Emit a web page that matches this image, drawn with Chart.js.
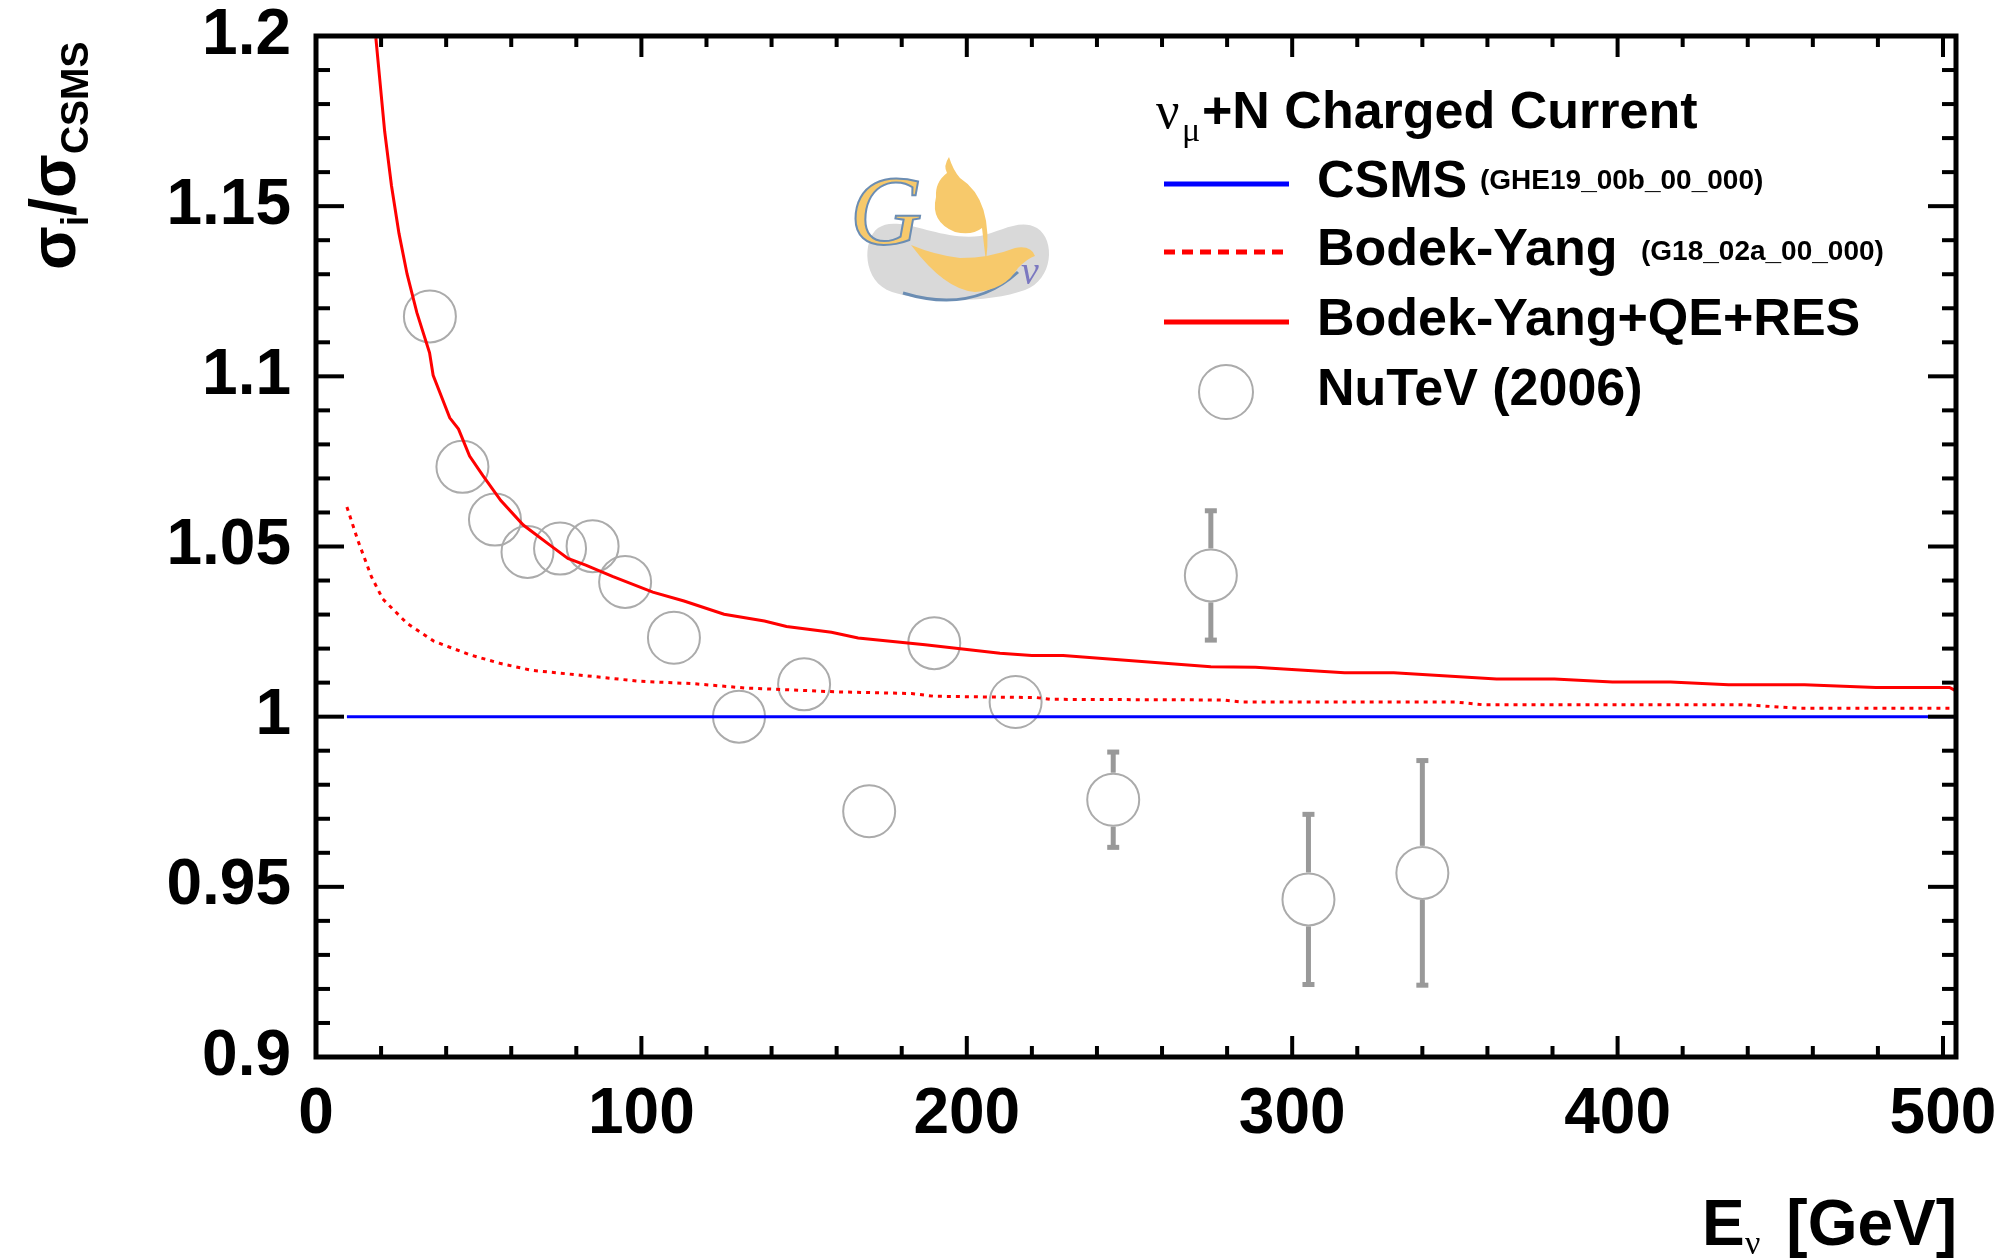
<!DOCTYPE html>
<html>
<head>
<meta charset="utf-8">
<script src="https://cdn.jsdelivr.net/npm/chart.js@4.4.1/dist/chart.umd.min.js"></script>
<style>
  html, body { margin: 0; padding: 0; background: #fff; }
  #wrap { width: 2009px; height: 1258px; position: relative; }
</style>
</head>
<body>
<div id="wrap"><canvas id="chart"></canvas></div>
<script>
// NuTeV (2006) data, ratio to CSMS
const nutevE = [35, 45, 55, 65, 75, 85, 95, 110, 130, 150, 170, 190, 215, 245, 275, 305, 340];
const nutevRatio = [1.1176, 1.0734, 1.0579, 1.0484, 1.0494, 1.0501, 1.0396, 1.0232, 1.0000, 1.0095,
                    0.9722, 1.0216, 1.0043, 0.9756, 1.0415, 0.9463, 0.9541];
const nutevErr = [0.005, 0.005, 0.005, 0.005, 0.005, 0.005, 0.005, 0.005, 0.006, 0.006,
                  0.007, 0.007, 0.007, 0.014, 0.019, 0.025, 0.033];

// Bodek-Yang (G18_02a_00_000)
const byE = [9.5, 12.9, 17.0, 20.5, 28.0, 36.2, 47.2, 56.8, 66.4, 80.1, 99.4, 115.8, 132.3, 159.7,
             183, 189.9, 221.5, 225.6, 279, 284.6, 350.3, 358.6, 438.2, 456, 504];
const byRatio = [1.0616, 1.0517, 1.0412, 1.0346, 1.0274, 1.0222, 1.0182, 1.0156, 1.0136, 1.0123,
                 1.0104, 1.0097, 1.0084, 1.0073, 1.0068, 1.0060, 1.0056, 1.0051, 1.0049, 1.0043,
                 1.0043, 1.0035, 1.0035, 1.0025, 1.0025];

// Bodek-Yang+QE+RES
const byFullE = [18.4, 21.1, 23.2, 25.5, 28.0, 31.0, 34.9, 36.0, 41.1, 43.8, 47.2, 51.3, 56.8, 63.7,
                 71.9, 77.4, 82.9, 91.1, 103.5, 113.1, 125.4, 137.8, 144.6, 158.4, 166.6, 187.2,
                 210.2, 220, 229.6, 275, 288.7, 302.4, 316.1, 331.2, 362.8, 380.6, 398.4, 416.3,
                 434.1, 457.4, 479.4, 502, 504];
const byFullRatio = [1.1994, 1.1720, 1.1560, 1.1420, 1.1300, 1.1187, 1.1069, 1.1003, 1.0878, 1.0845,
                     1.0766, 1.0708, 1.0635, 1.0563, 1.0504, 1.0465, 1.0445, 1.0412, 1.0366, 1.0340,
                     1.0301, 1.0281, 1.0265, 1.0248, 1.0231, 1.0211, 1.0186, 1.0180, 1.0180, 1.0147,
                     1.0145, 1.0137, 1.0129, 1.0129, 1.0111, 1.0111, 1.0102, 1.0102, 1.0094, 1.0094,
                     1.0086, 1.0086, 1.0076];

// CSMS (GHE19_00b_00_000) reference
const csmsE = [9.5, 504];
const csmsRatio = [1, 1];

const xTicks = [0, 100, 200, 300, 400, 500];
const yTicks = [0.9, 0.95, 1, 1.05, 1.1, 1.15, 1.2];

const SANS = '"Liberation Sans", Arial, Helvetica, sans-serif';
const SERIF = '"Liberation Serif", "DejaVu Serif", serif';
const GREY = '#ababab';

const toXY = (xs, ys) => xs.map((x, i) => ({ x: x, y: ys[i] }));

function line(ctx, x1, y1, x2, y2) {
  ctx.beginPath(); ctx.moveTo(x1, y1); ctx.lineTo(x2, y2); ctx.stroke();
}

function drawLogo(ctx) {
  ctx.save();
  ctx.fillStyle = '#d9d9d9';
  ctx.beginPath();
  ctx.moveTo(878, 228);
  ctx.bezierCurveTo(862, 240, 862, 282, 892, 292);
  ctx.bezierCurveTo(925, 303, 990, 303, 1025, 290);
  ctx.bezierCurveTo(1053, 280, 1056, 240, 1037, 228);
  ctx.bezierCurveTo(1020, 218, 1000, 232, 980, 236);
  ctx.bezierCurveTo(950, 240, 920, 226, 900, 224);
  ctx.bezierCurveTo(890, 223, 884, 224, 878, 228);
  ctx.fill();

  ctx.strokeStyle = '#6b8db3';
  ctx.lineWidth = 3;
  ctx.beginPath(); ctx.moveTo(903, 293); ctx.quadraticCurveTo(972, 314, 1018, 272); ctx.stroke();

  ctx.fillStyle = '#f7c96b';
  // body
  ctx.beginPath();
  ctx.moveTo(949, 157);
  ctx.quadraticCurveTo(943, 166, 947, 173);
  ctx.quadraticCurveTo(935, 182, 936, 197);
  ctx.quadraticCurveTo(930, 222, 955, 232);
  ctx.quadraticCurveTo(972, 236, 982, 228);
  ctx.lineTo(986, 262);
  ctx.quadraticCurveTo(994, 200, 960, 178);
  ctx.quadraticCurveTo(953, 170, 949, 157);
  ctx.fill();
  // wing
  ctx.beginPath();
  ctx.moveTo(911, 245);
  ctx.quadraticCurveTo(945, 290, 975, 292);
  ctx.quadraticCurveTo(1005, 290, 1018, 268);
  ctx.quadraticCurveTo(1028, 258, 1035, 256);
  ctx.quadraticCurveTo(1031, 245, 1015, 248);
  ctx.quadraticCurveTo(990, 258, 960, 258);
  ctx.quadraticCurveTo(935, 255, 911, 245);
  ctx.fill();

  ctx.font = 'italic 100px ' + SERIF;
  ctx.lineWidth = 2;
  ctx.fillText('G', 850, 244);
  ctx.strokeText('G', 850, 244);

  ctx.fillStyle = '#7b78c0';
  ctx.font = 'italic 40px ' + SERIF;
  ctx.fillText('\u03bd', 1021, 284);
  ctx.restore();
}

const decorations = {
  id: 'decorations',
  beforeDatasetsDraw(chart) {
    drawLogo(chart.ctx);
  },
  afterDatasetsDraw(chart) {
    const { ctx, scales: { x, y } } = chart;
    const r = 27;
    ctx.save();
    ctx.strokeStyle = '#999';
    ctx.fillStyle = '#999';
    ctx.lineWidth = 5;
    nutevE.forEach((e, i) => {
      const px = x.getPixelForValue(e);
      const py = y.getPixelForValue(nutevRatio[i]);
      const top = y.getPixelForValue(nutevRatio[i] + nutevErr[i]);
      const bot = y.getPixelForValue(nutevRatio[i] - nutevErr[i]);
      if (py - top > r) {
        line(ctx, px, top, px, py - r);
        ctx.fillRect(px - 6, top - 2.5, 12, 5);
      }
      if (bot - py > r) {
        line(ctx, px, py + r, px, bot);
        ctx.fillRect(px - 6, bot - 2.5, 12, 5);
      }
    });
    ctx.restore();
  },
  afterDraw(chart) {
    const { ctx, chartArea: a, scales: { x, y } } = chart;
    ctx.save();
    ctx.strokeStyle = '#000';
    ctx.lineWidth = 4;
    for (let v = 20; v < 504; v += 20) {
      const px = x.getPixelForValue(v);
      const len = v % 100 === 0 ? 21 : 11;
      line(ctx, px, a.bottom, px, a.bottom - len);
      line(ctx, px, a.top, px, a.top + len);
    }
    for (let k = 1; k < 30; k++) {
      const py = y.getPixelForValue(0.9 + k * 0.01);
      const len = k % 5 === 0 ? 28 : 14;
      line(ctx, a.left, py, a.left + len, py);
      line(ctx, a.right, py, a.right - len, py);
    }
    ctx.lineWidth = 5;
    ctx.strokeRect(a.left, a.top, a.right - a.left, a.bottom - a.top);

    // axis titles
    ctx.fillStyle = '#000';
    ctx.textBaseline = 'alphabetic';
    ctx.textAlign = 'left';
    ctx.font = 'bold 64px ' + SANS;
    ctx.fillText('E', 1702, 1245);
    ctx.font = '34px ' + SERIF;
    ctx.fillText('\u03bd', 1745, 1254);
    ctx.textAlign = 'right';
    ctx.font = 'bold 64px ' + SANS;
    ctx.fillText('[GeV]', 1957, 1245);

    ctx.save();
    ctx.translate(75, 270);
    ctx.rotate(-Math.PI / 2);
    ctx.textAlign = 'left';
    let cx = 0;
    const part = (t, font, dy) => {
      ctx.font = font;
      ctx.fillText(t, cx, dy);
      cx += ctx.measureText(t).width;
    };
    part('\u03c3', 'bold 64px ' + SANS, 0);
    part('i', 'bold 38px ' + SANS, 13);
    part('/\u03c3', 'bold 64px ' + SANS, 0);
    part('CSMS', 'bold 39px ' + SANS, 13);
    ctx.restore();

    // legend
    ctx.textAlign = 'left';
    ctx.font = '52px ' + SERIF;
    ctx.fillText('\u03bd', 1156, 128);
    ctx.font = '34px ' + SERIF;
    ctx.fillText('\u03bc', 1182, 141);
    ctx.font = 'bold 52px ' + SANS;
    ctx.fillText('+N Charged Current', 1202, 128);

    ctx.lineWidth = 5;
    ctx.strokeStyle = '#0000ff';
    line(ctx, 1164, 184, 1289, 184);
    ctx.strokeStyle = '#ff0000';
    ctx.setLineDash([11, 7]);
    line(ctx, 1164, 252, 1283, 252);
    ctx.setLineDash([]);
    line(ctx, 1164, 322, 1289, 322);
    ctx.strokeStyle = GREY;
    ctx.lineWidth = 2;
    ctx.beginPath(); ctx.arc(1226, 392, 27, 0, 2 * Math.PI); ctx.stroke();

    ctx.font = 'bold 52px ' + SANS;
    ctx.fillText('CSMS', 1317, 197);
    ctx.fillText('Bodek-Yang', 1317, 265);
    ctx.fillText('Bodek-Yang+QE+RES', 1317, 335);
    ctx.fillText('NuTeV (2006)', 1317, 405);
    ctx.font = 'bold 28px ' + SANS;
    ctx.fillText('(GHE19_00b_00_000)', 1480, 189);
    ctx.fillText('(G18_02a_00_000)', 1641, 260);
    ctx.restore();
  }
};

const tickFont = { family: SANS, weight: 'bold', size: 64 };

new Chart(document.getElementById('chart'), {
  type: 'scatter',
  data: {
    datasets: [
      {
        label: 'CSMS',
        data: toXY(csmsE, csmsRatio),
        showLine: true,
        borderColor: '#0000ff',
        borderWidth: 3,
        pointRadius: 0
      },
      {
        label: 'Bodek-Yang',
        data: toXY(byE, byRatio),
        showLine: true,
        borderColor: '#ff0000',
        borderWidth: 3,
        borderDash: [4, 5],
        pointRadius: 0
      },
      {
        label: 'Bodek-Yang+QE+RES',
        data: toXY(byFullE, byFullRatio),
        showLine: true,
        borderColor: '#ff0000',
        borderWidth: 3,
        pointRadius: 0
      },
      {
        label: 'NuTeV (2006)',
        data: toXY(nutevE, nutevRatio),
        pointRadius: 26,
        pointBorderWidth: 2,
        pointBorderColor: GREY,
        pointBackgroundColor: 'rgba(0,0,0,0)'
      }
    ]
  },
  options: {
    responsive: true,
    maintainAspectRatio: false,
    animation: false,
    layout: { padding: { top: 36, right: 53, left: 0, bottom: 0 } },
    plugins: {
      legend: { display: false },
      tooltip: { enabled: false }
    },
    scales: {
      x: {
        type: 'linear',
        min: 0,
        max: 504,
        grid: { display: false, drawTicks: false },
        border: { display: false },
        afterBuildTicks: s => { s.ticks = xTicks.map(v => ({ value: v })); },
        afterFit: s => { s.height = 1258 - 1057; s.paddingLeft = 0; s.paddingRight = 0; },
        ticks: { font: tickFont, color: '#000', padding: 20, maxRotation: 0, autoSkip: false }
      },
      y: {
        min: 0.9,
        max: 1.2,
        grid: { display: false, drawTicks: false },
        border: { display: false },
        afterBuildTicks: s => { s.ticks = yTicks.map(v => ({ value: v })); },
        afterFit: s => { s.width = 316; s.paddingTop = 0; s.paddingBottom = 0; },
        ticks: {
          font: tickFont, color: '#000', padding: 25, autoSkip: false,
          callback: v => String(Math.round(v * 100) / 100)
        }
      }
    }
  },
  plugins: [decorations]
});
</script>
</body>
</html>
